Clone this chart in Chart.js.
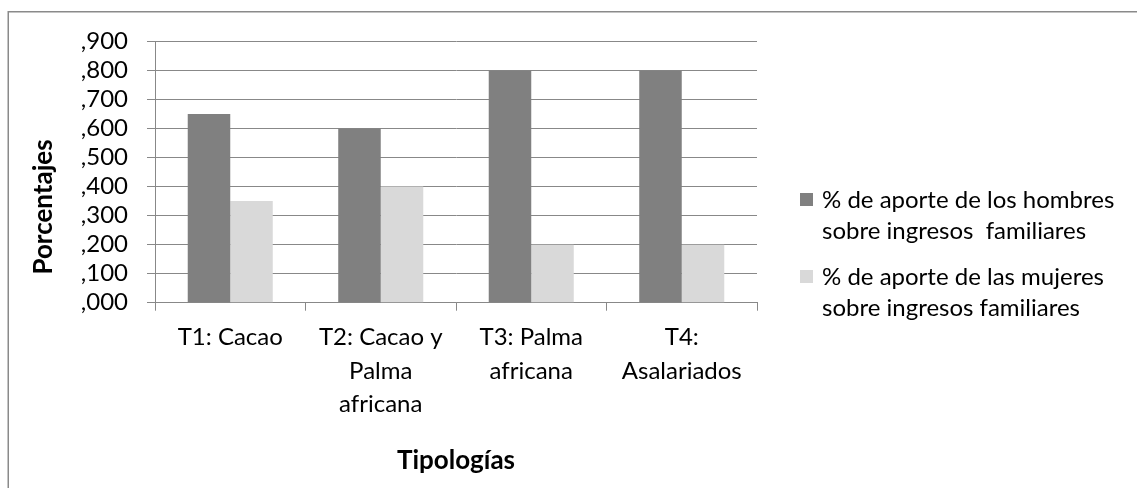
<!DOCTYPE html>
<html>
<head>
<meta charset="utf-8">
<script src="https://cdn.jsdelivr.net/npm/chart.js@4/dist/chart.umd.min.js"></script>
<style>
  html, body { margin: 0; padding: 0; background: #fff; }
  #wrap { width: 1137px; height: 488px; position: relative; }
</style>
</head>
<body>
<div id="wrap"><canvas id="c" width="1137" height="488"></canvas></div>
<script>
// Tipologías de hogares y aporte a los ingresos familiares
const categories = [
  ['T1: Cacao'],
  ['T2: Cacao y', 'Palma', 'africana'],
  ['T3: Palma', 'africana'],
  ['T4:', 'Asalariados']
];
const hombres = [0.65, 0.60, 0.80, 0.80];
const mujeres = [0.35, 0.40, 0.20, 0.20];
const seriesNames = [
  ['% de aporte de los hombres', 'sobre ingresos  familiares'],
  ['% de aporte de las mujeres', 'sobre ingresos familiares']
];
const yTitle = 'Porcentajes';
const xTitle = 'Tipologías';

const FONT = 'Lato, "Open Sans", sans-serif';
const COL_DARK = '#808080';
const COL_LIGHT = '#d9d9d9';
const GRID = '#888888';

Chart.defaults.color = '#000';
Chart.defaults.font.family = FONT;

// Frame, axis titles and the two-line legend drawn on the canvas
const decorations = {
  id: 'decorations',
  afterDraw(chart) {
    const ctx = chart.ctx;
    ctx.save();
    // outer frame
    ctx.strokeStyle = '#8a8a8a';
    ctx.lineWidth = 1.5;
    ctx.strokeRect(8.25, 11.75, 1200, 600);

    // y axis title
    ctx.fillStyle = '#000';
    ctx.font = 'bold 26px ' + FONT;
    ctx.textAlign = 'center';
    ctx.textBaseline = 'middle';
    ctx.save();
    ctx.translate(44, 207);
    ctx.rotate(-Math.PI / 2);
    ctx.fillText(yTitle, 0, 0);
    ctx.restore();

    // x axis title
    const ca = chart.chartArea;
    ctx.fillText(xTitle, (ca.left + ca.right) / 2, 461);

    // legend
    ctx.font = '24px ' + FONT;
    ctx.textAlign = 'left';
    const rows = [200, 277];
    chart.data.datasets.forEach((ds, i) => {
      const y = rows[i];
      ctx.fillStyle = ds.backgroundColor;
      ctx.fillRect(800, y - 7, 13, 13);
      ctx.fillStyle = '#000';
      seriesNames[i].forEach((line, j) => {
        ctx.fillText(line, 822, y + j * 31);
      });
    });
    ctx.restore();
  }
};

new Chart(document.getElementById('c'), {
  type: 'bar',
  data: {
    labels: categories,
    datasets: [
      { label: seriesNames[0].join(' '), data: hombres, backgroundColor: COL_DARK },
      { label: seriesNames[1].join(' '), data: mujeres, backgroundColor: COL_LIGHT }
    ]
  },
  options: {
    responsive: false,
    animation: false,
    layout: { padding: { left: 0, top: 41.5, right: 380, bottom: 0 } },
    plugins: { legend: { display: false }, tooltip: { enabled: false } },
    datasets: { bar: { categoryPercentage: 0.565, barPercentage: 1.0 } },
    scales: {
      x: {
        grid: { offset: true, drawOnChartArea: false, drawTicks: true, tickLength: 8, color: GRID, lineWidth: 1 },
        border: { display: true, color: GRID, width: 1 },
        ticks: { autoSkip: false, maxRotation: 0, minRotation: 0, padding: 10, font: { size: 24, lineHeight: 1.4 } },
        afterFit(scale) { scale.height = 185.3; }
      },
      y: {
        min: 0, max: 0.9,
        grid: { color: GRID, lineWidth: 1, tickLength: 8 },
        border: { display: true, color: GRID, width: 1 },
        ticks: {
          stepSize: 0.1, padding: 19, autoSkip: false,
          font: { size: 24 },
          callback: v => ',' + String(Math.round(v * 1000)).padStart(3, '0')
        },
        afterFit(scale) { scale.width = 155; }
      }
    }
  },
  plugins: [decorations]
});
</script>
</body>
</html>
